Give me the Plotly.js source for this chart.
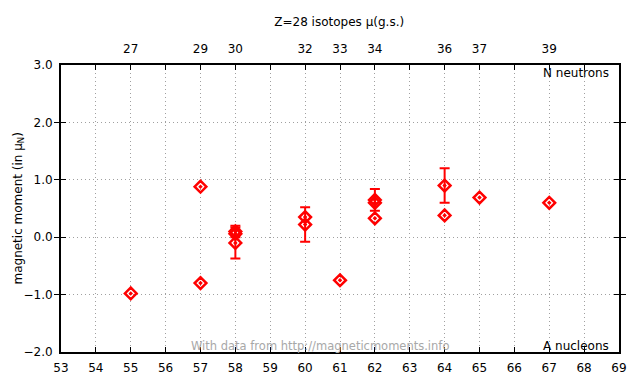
<!DOCTYPE html>
<html>
<head>
<meta charset="utf-8">
<script src="https://cdn.plot.ly/plotly-3.0.1.min.js"></script>
<style>html,body{margin:0;padding:0;background:#fff}#chart{width:640px;height:384px}</style>
</head>
<body>
<div id="chart"></div>
<script>
// Mass number A (nucleons)
const massNumbers = [55, 57, 57, 58, 58, 58, 60, 60, 61, 62, 62, 62, 64, 64, 65, 67];
// magnetic moment (mu_N)
const moments =     [-0.98, 0.88, -0.80, 0.10, 0.06, -0.10, 0.22, 0.35, -0.75, 0.65, 0.60, 0.33, 0.90, 0.38, 0.69, 0.60];
// uncertainties (null = no error bar drawn)
const errors =      [null, null, null, 0.10, null, 0.27, 0.30, null, null, 0.19, null, null, 0.30, null, null, null];
// top axis: neutron numbers N
const topTickA = [55, 57, 58, 60, 61, 62, 64, 65, 67];
const topTickN = ['27', '29', '30', '32', '33', '34', '36', '37', '39'];

const fontFam = 'DejaVu Sans, Verdana, sans-serif';

const withErr = massNumbers.map((_, i) => i).filter(i => errors[i] !== null);
const noErr = massNumbers.map((_, i) => i).filter(i => errors[i] === null);

const markerStyle = {symbol: 'diamond-open-dot', size: 9, color: '#ff0000', line: {color: '#ff0000', width: 2.5}};

const traces = [
  {
    x: withErr.map(i => massNumbers[i]), y: withErr.map(i => moments[i]), type: 'scatter', mode: 'markers',
    marker: markerStyle,
    error_y: {type: 'data', array: withErr.map(i => errors[i]), visible: true, color: '#ff0000', thickness: 2, width: 5},
    showlegend: false
  },
  {
    x: noErr.map(i => massNumbers[i]), y: noErr.map(i => moments[i]), type: 'scatter', mode: 'markers',
    marker: markerStyle, showlegend: false
  },
  {
    x: topTickA, y: topTickA.map(() => null), xaxis: 'x2', type: 'scatter', mode: 'markers',
    showlegend: false, hoverinfo: 'skip'
  }
];

const gridDash = '1px,3px';

const layout = {
  width: 640, height: 384,
  margin: {l: 61, r: 21, t: 65, b: 32},
  paper_bgcolor: '#ffffff', plot_bgcolor: '#ffffff',
  font: {family: fontFam, size: 12, color: '#000'},
  title: {text: 'Z=28 isotopes μ(g.s.)', font: {family: fontFam, size: 12, color: '#000'}, x: 0.53, xanchor: 'center', y: 0.943, yanchor: 'middle', yref: 'container'},
  xaxis: {
    range: [53, 69], dtick: 1, tick0: 53, ticks: 'inside', ticklen: 5, tickwidth: 1, tickcolor: '#000',
    showline: true, linecolor: '#000', linewidth: 2, mirror: 'allticks',
    showgrid: true, gridcolor: '#a0a0a0', griddash: gridDash, gridwidth: 1,
    zeroline: false, tickfont: {family: fontFam, size: 12}, ticklabelstandoff: 4
  },
  xaxis2: {
    overlaying: 'x', side: 'top', range: [53, 69], tickmode: 'array',
    tickvals: topTickA, ticktext: topTickN, ticks: '', showgrid: false, zeroline: false,
    showline: false, tickfont: {family: fontFam, size: 12}, ticklabelstandoff: 9
  },
  yaxis: {
    range: [-2, 3], dtick: 1, tick0: -2, tickformat: '.1f', ticks: 'inside', ticklen: 5, tickcolor: '#000',
    showline: true, linecolor: '#000', linewidth: 2, mirror: 'allticks',
    showgrid: true, gridcolor: '#a0a0a0', griddash: gridDash, gridwidth: 1,
    zeroline: false, tickfont: {family: fontFam, size: 12}, ticklabelstandoff: 4
  },
  annotations: [
    {text: 'magnetic moment (in μ<sub>N</sub>)', textangle: -90, xref: 'paper', yref: 'paper', x: -0.077, y: 0.5, xanchor: 'center', yanchor: 'middle', showarrow: false, font: {family: fontFam, size: 12, color: '#000'}},
    {text: 'N neutrons', xref: 'paper', yref: 'paper', x: 0.985, y: 1.005, xanchor: 'right', yanchor: 'top', showarrow: false, font: {family: fontFam, size: 12, color: '#000'}},
    {text: 'A nucleons', xref: 'paper', yref: 'paper', x: 0.985, y: -0.012, xanchor: 'right', yanchor: 'bottom', showarrow: false, font: {family: fontFam, size: 12, color: '#000'}},
    {text: 'With data from http://magneticmoments.info', xref: 'paper', yref: 'paper', x: 0.465, y: -0.012, xanchor: 'center', yanchor: 'bottom', showarrow: false, font: {family: fontFam, size: 11.5, color: '#a8a8a8'}}
  ]
};

Plotly.newPlot('chart', traces, layout, {staticPlot: true, displayModeBar: false});
</script>
</body>
</html>
